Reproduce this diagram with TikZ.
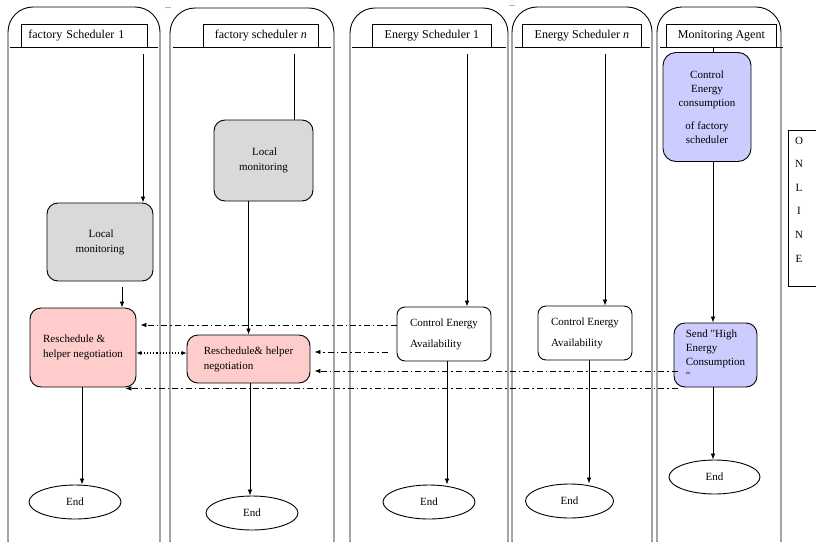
\documentclass[tikz,border=0pt]{standalone}
\usepackage{fontspec}
\setmainfont{Liberation Serif}
\usetikzlibrary{arrows.meta,shapes.geometric}
\definecolor{boxgray}{HTML}{D9D9D9}
\definecolor{boxpink}{HTML}{FFCCCC}
\definecolor{boxblue}{HTML}{CCCCFF}
\begin{document}
\begin{tikzpicture}[x=1pt,y=-1pt,
  lane/.style={draw,line width=0.9pt,rounded corners=25pt},
  sep/.style={line width=0.8pt},
  head/.style={draw,line width=0.8pt,minimum height=23pt,inner sep=0pt,font=\fontsize{12}{13}\selectfont},
  box/.style={draw,line width=0.9pt,rounded corners=11pt,inner sep=0pt,font=\fontsize{11}{15}\selectfont,align=left},
  endnode/.style={draw,ellipse,line width=0.9pt,font=\fontsize{11}{12}\selectfont,inner sep=0pt},
  flow/.style={-{Latex[length=6pt,width=4.5pt]},line width=0.7pt},
  plain/.style={line width=0.7pt},
  msg/.style={-{Latex[length=6pt,width=4.5pt]},line width=0.7pt,dash pattern=on 6pt off 3pt on 1.5pt off 3pt},
  dots/.style={{Latex[length=5pt,width=4.5pt]}-{Latex[length=5pt,width=4.5pt]},line width=1.1pt,dotted},
  online/.style={font=\fontsize{11}{12}\selectfont,inner sep=0pt},
]
\useasboundingbox (0,0) rectangle (816,541);

% swimlanes and the ONLINE bar, cut at the page edge
\begin{scope}
  \clip (0,0) rectangle (816,541);
  \draw[lane] (8,7) rectangle (160,566);
  \draw[lane] (170,8) rectangle (334,566);
  \draw[lane] (350,8) rectangle (508,566);
  \draw[lane] (512,7) rectangle (652,566);
  \draw[lane] (657,7) rectangle (781,566);
  \draw[line width=0.8pt] (788,130) rectangle (830,286);
\end{scope}

% header separators
\draw[sep] (10,47) -- (158,47);
\draw[sep] (173,47) -- (331,47);
\draw[sep] (352,47) -- (506,47);
\draw[sep] (515,47) -- (650,47);
\draw[sep] (660,47) -- (783,47);

% lane headers
\node[head,minimum width=126pt,anchor=north west,text width=112pt,align=left] (h1) at (21,24) {factory Scheduler 1};
\node[head,minimum width=115pt,anchor=north west] (h2) at (203,24) {factory scheduler \textit{n}};
\node[head,minimum width=119pt,anchor=north west] (h3) at (372,24) {Energy Scheduler 1};
\node[head,minimum width=119pt,anchor=north west] (h4) at (522,24) {Energy Scheduler \textit{n}};
\node[head,minimum width=110pt,anchor=north west] (h5) at (666,24) {Monitoring Agent};

\node[font=\fontsize{8}{9}\selectfont,inner sep=0pt] (ell1) at (168,8) {...};
\node[font=\fontsize{8}{9}\selectfont,inner sep=0pt] (ell2) at (512,6) {...};

% process boxes
\node[box,fill=boxgray,minimum width=106pt,minimum height=78pt] (lm1) at (100,242) {\hspace*{13pt}Local\\monitoring};
\node[box,fill=boxgray,minimum width=99pt,minimum height=81pt] (lm2) at (263.5,160.5) {\hspace*{13pt}Local\\monitoring};
\node[box,fill=boxpink,minimum width=106pt,minimum height=79pt] (rs1) at (83,347.5) {Reschedule \&\\helper negotiation};
\node[box,fill=boxpink,minimum width=123pt,minimum height=48pt] (rs2) at (248.5,359) {Reschedule\& helper\\negotiation};
\node[box,fill=white,rounded corners=8pt,minimum width=94pt,minimum height=54pt,font=\fontsize{11}{21}\selectfont] (ce1) at (444,334) {Control Energy\\Availability};
\node[box,fill=white,rounded corners=8pt,minimum width=94pt,minimum height=54pt,font=\fontsize{11}{21}\selectfont] (ce2) at (585,333) {Control Energy\\Availability};
\node[box,fill=boxblue,rounded corners=13pt,minimum width=88pt,minimum height=109pt,align=center,font=\fontsize{11}{14}\selectfont] (cc) at (707,107) {Control\\Energy\\consumption\\[9pt]of factory\\scheduler};
\node[box,fill=boxblue,rounded corners=11pt,minimum width=83pt,minimum height=64pt,font=\fontsize{11}{14}\selectfont] (send) at (715.5,355) {Send \textquotedbl High\\Energy\\Consumption\\\textquotedbl};

% end states
\node[endnode,minimum width=92pt,minimum height=34pt] (end1) at (75,502) {End};
\node[endnode,minimum width=92pt,minimum height=34pt] (end2) at (252,513) {End};
\node[endnode,minimum width=92pt,minimum height=34pt] (end3) at (429,502) {End};
\node[endnode,minimum width=88pt,minimum height=34pt] (end4) at (569.5,501) {End};
\node[endnode,minimum width=91pt,minimum height=34pt] (end5) at (714.5,477) {End};

% ONLINE label
\node[online] (o1) at (799,141) {O};
\node[online] (o2) at (799,164) {N};
\node[online] (o3) at (799,188) {L};
\node[online] (o4) at (799,211) {I};
\node[online] (o5) at (799,235) {N};
\node[online] (o6) at (799,259) {E};

% lane starts
\coordinate (s1) at (143,54);
\coordinate (s2) at (294,54);
\coordinate (s3) at (467,54);
\coordinate (s4) at (605,54);
\coordinate (s5) at (713,47);

% control flow inside each lane
\draw[flow] (s1) -- (s1 |- lm1.north);
\draw[flow,shorten <=6pt] ([xshift=39pt]rs1.north |- lm1.south) -- ([xshift=39pt]rs1.north);
\draw[flow] ([xshift=-1pt]rs1.south) -- ([xshift=-1pt]rs1.south |- end1.north);

\draw[plain] (s2) -- (s2 |- lm2.north);
\draw[flow] (rs2.north |- lm2.south) -- (rs2.north);
\draw[flow] ([xshift=1.5pt]rs2.south) -- ([xshift=1.5pt]rs2.south |- end2.north);

\draw[flow] (s3) -- (s3 |- ce1.north);
\draw[flow] ([xshift=3pt]ce1.south) -- ([xshift=3pt]ce1.south |- end3.north);

\draw[flow] (s4) -- (s4 |- ce2.north);
\draw[flow] ([xshift=4pt]ce2.south) -- ([xshift=4pt]ce2.south |- end4.north);

\draw[plain] (s5) -- (s5 |- cc.north);
\draw[flow] ([xshift=6pt]cc.south) -- ([xshift=6pt]cc.south |- send.north);
\draw[flow] ([xshift=-2.5pt]send.south) -- ([xshift=-2.5pt]send.south |- end5.north);

% messages between agents
\coordinate (m1) at ([yshift=9pt]ce1.west);
\coordinate (m2) at ([yshift=-18pt]ce1.west);
\coordinate (m3) at ([yshift=-16pt]send.west);
\coordinate (m4) at ([shift={(4pt,-1pt)}]send.south west);
\coordinate (m5) at ([shift={(-11pt,-1pt)}]rs1.south east);
\coordinate (m6) at ([yshift=-5.5pt]rs1.east);

\draw[msg,shorten >=4pt] (m1) -- (m1 -| rs1.east);
\draw[msg,shorten <=9pt,shorten >=4pt] (m2) -- (m2 -| rs2.east);
\draw[msg,shorten <=-4pt,shorten >=4pt] (m3) -- (m3 -| rs2.east);
\draw[msg] (m4) -- (m5);
\draw[dots] (m6) -- (m6 -| rs2.west);
\end{tikzpicture}
\end{document}
